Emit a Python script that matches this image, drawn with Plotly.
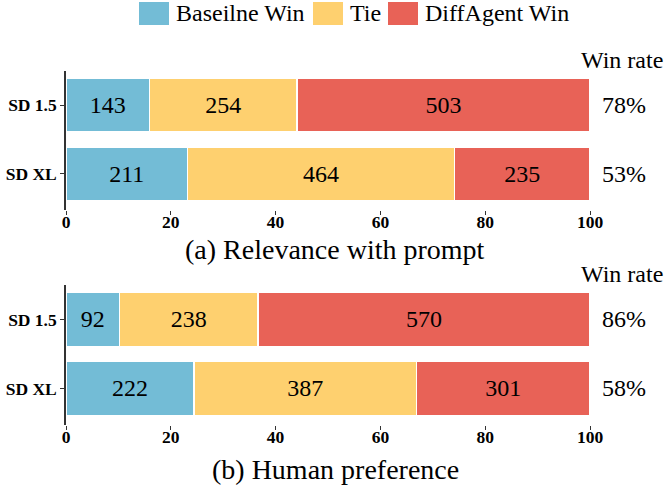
import plotly.graph_objects as go

models = ['SD 1.5', 'SD XL']
outcomes = ['Baseilne Win', 'Tie', 'DiffAgent Win']
colors = ['#73BCD6', '#FED06F', '#E86257']

# counts
relevance_baseline = [143, 211]
relevance_tie = [254, 464]
relevance_diffagent = [503, 235]

human_baseline = [92, 222]
human_tie = [238, 387]
human_diffagent = [570, 301]

panel_titles = ['(a) Relevance with prompt', '(b) Human preference']
x_ticks = [0, 20, 40, 60, 80, 100]

FONT = 'Liberation Serif'
W, H = 665, 486


def px_x(p):
    return p / W


def px_y(p):
    return 1 - p / H


panels = [
    (relevance_baseline, relevance_tie, relevance_diffagent),
    (human_baseline, human_tie, human_diffagent),
]
# pixel layout of each panel: (axis top, axis bottom, title y)
panel_px = [(71, 210, 249), (285, 425, 469)]

fig = go.Figure()
annotations = []
shapes = []

for i, counts in enumerate(panels):
    totals = [sum(c) for c in zip(*counts)]
    ax = '' if i == 0 else str(i + 1)
    for name, vals, col in zip(outcomes, counts, colors):
        pct = [v / t * 100 for v, t in zip(vals, totals)]
        fig.add_trace(go.Bar(
            y=models, x=pct, orientation='h', name=name,
            text=vals, textposition='inside', insidetextanchor='middle',
            textangle=0, textfont=dict(size=24, color='black', family=FONT),
            marker=dict(color=col, line=dict(color='white', width=1.5)),
            width=0.78, xaxis='x' + ax, yaxis='y' + ax, showlegend=False,
        ))
    base, tie, win = counts
    for m, b, w in zip(models, base, win):
        rate = round(w / (w + b) * 100)
        annotations.append(dict(
            x=px_x(624), y=m, xref='paper', yref='y' + ax,
            xanchor='center', yanchor='middle',
            text=f'{rate}%', showarrow=False,
            font=dict(size=24, family=FONT, color='black'),
        ))
    top, bottom, title_y = panel_px[i]
    annotations.append(dict(
        x=px_x(622), y=px_y(top - 11), xref='paper', yref='paper',
        xanchor='center', yanchor='middle',
        text='Win rate', showarrow=False,
        font=dict(size=24, family=FONT, color='black'),
    ))
    annotations.append(dict(
        x=px_x(335), y=px_y(title_y), xref='paper', yref='paper',
        xanchor='center', yanchor='middle',
        text=panel_titles[i], showarrow=False,
        font=dict(size=28, family=FONT, color='black'),
    ))

    axis_font = dict(size=17.5, family=FONT, color='black', weight='bold')
    fig.update_layout({
        'xaxis' + ax: dict(
            domain=[px_x(66), px_x(590)], range=[0, 100], tickvals=x_ticks,
            ticks='outside', ticklen=4, tickcolor='#333', showline=False,
            showgrid=False, zeroline=False, tickfont=axis_font,
            ticklabelstandoff=-8, anchor='y' + ax, automargin=False,
        ),
        'yaxis' + ax: dict(
            domain=[px_y(bottom), px_y(top)], range=[1.53, -0.5],
            showline=True, linecolor='#333', linewidth=1.5,
            ticks='outside', ticklen=4, tickcolor='#333', showgrid=False,
            zeroline=False, tickfont=axis_font, anchor='x' + ax,
            automargin=False,
        ),
    })

# legend drawn by hand so the swatches can be large
legend_px = [139, 313, 388]
for name, col, lx in zip(outcomes, colors, legend_px):
    shapes.append(dict(
        type='rect', xref='paper', yref='paper',
        x0=px_x(lx), x1=px_x(lx + 30), y0=px_y(25), y1=px_y(2),
        fillcolor=col, line=dict(width=0),
    ))
    annotations.append(dict(
        x=px_x(lx + 35), y=px_y(13), xref='paper', yref='paper',
        xanchor='left', yanchor='middle', text=name, showarrow=False,
        font=dict(size=24, family=FONT, color='black'),
    ))

fig.update_layout(
    barmode='stack', width=W, height=H,
    margin=dict(l=0, r=0, t=0, b=0),
    plot_bgcolor='white', paper_bgcolor='white',
    annotations=annotations, shapes=shapes,
    font=dict(family=FONT),
)

fig.write_html('out.html', config={'displayModeBar': False},
               post_script="document.body.style.margin='0';document.body.style.overflow='hidden';")
